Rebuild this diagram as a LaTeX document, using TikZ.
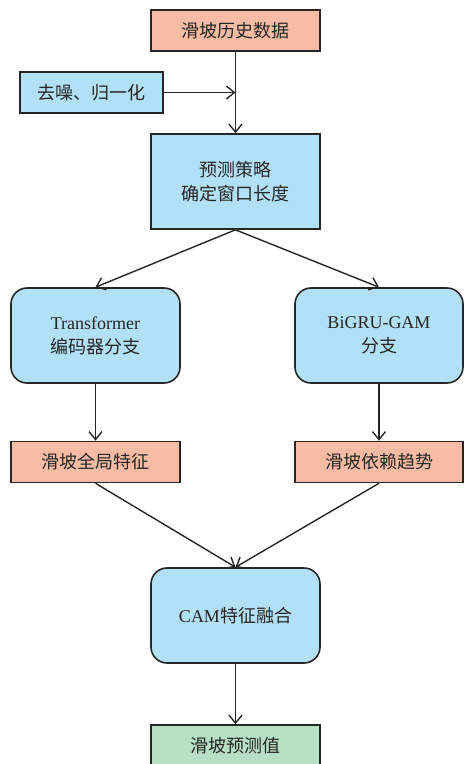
\documentclass[tikz,border=0pt]{standalone}
\usepackage{fontspec}
\setmainfont{Liberation Serif}
\newfontfamily\cjk{Noto Sans CJK SC}
\usetikzlibrary{arrows.meta}
\definecolor{salmon}{HTML}{F8BCA5}
\definecolor{lblue}{HTML}{B2E0F6}
\definecolor{lgreen}{HTML}{B7DFC3}
\tikzset{
  box/.style={draw=black!85, line width=1.6pt, inner sep=0pt, align=center, text=black!85, font=\fontsize{18}{24}\selectfont},
  rbox/.style={box, rounded corners=16pt},
  conn/.style={draw=black!85, line width=1.4pt, -{Straight Barb[length=8pt,width=13pt,line width=1.4pt]}},
}
\begin{document}
\begin{tikzpicture}[x=1pt,y=-1pt]
\useasboundingbox (0,0) rectangle (470,764);
\node[box, fill=salmon, minimum width=169pt, minimum height=41pt] (hist) at (235.5,30.5) {\cjk 滑坡历史数据};
\node[box, fill=lblue, minimum width=143pt, minimum height=41pt] (norm) at (91.5,92.5) {\cjk 去噪、归一化};
\node[box, fill=lblue, minimum width=169pt, minimum height=95pt] (strat) at (235.5,181.5) {\cjk 预测策略\\\cjk 确定窗口长度};
\node[rbox, fill=lblue, minimum width=169pt, minimum height=95pt] (trans) at (95.5,335.5) {Transformer\\\cjk 编码器分支};
\node[rbox, fill=lblue, minimum width=168pt, minimum height=95pt] (bigru) at (379,335.5) {BiGRU-GAM\\\cjk 分支};
\node[box, fill=salmon, minimum width=169pt, minimum height=41pt] (glob) at (95.5,462) {\cjk 滑坡全局特征};
\node[box, fill=salmon, minimum width=168pt, minimum height=41pt] (dep) at (379,462) {\cjk 滑坡依赖趋势};
\node[rbox, fill=lblue, minimum width=169pt, minimum height=95pt] (cam) at (235.5,615.5) {CAM{\cjk 特征融合}};
\node[box, fill=lgreen, minimum width=169pt, minimum height=41pt] (pred) at (235.5,745.5) {\cjk 滑坡预测值};
\coordinate (join) at (hist.south |- norm.east);
\draw[conn] (hist) -- (strat);
\draw[conn] (norm.east) -- (join);
\draw[conn] (strat.south) -- (trans.north);
\draw[conn] (strat.south) -- (bigru.north);
\draw[conn] (trans) -- (glob);
\draw[conn] (bigru) -- (dep);
\draw[conn] (glob.south) -- (cam.north);
\draw[conn] (dep.south) -- (cam.north);
\draw[conn] (cam) -- (pred);
\end{tikzpicture}
\end{document}
